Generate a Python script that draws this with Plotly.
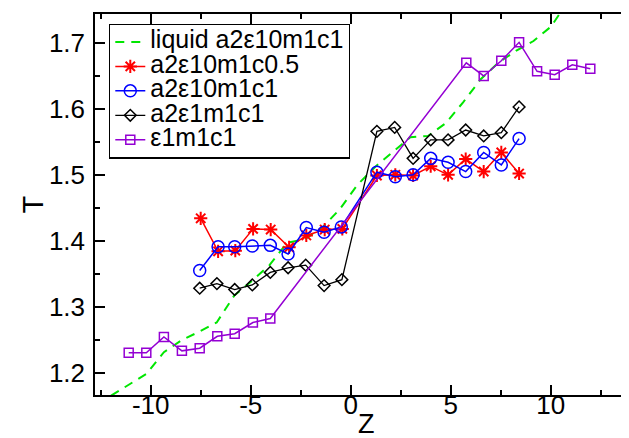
import plotly.graph_objects as go

# ---------------- data ----------------
liquid_z = [-11.98, -11.10, -10.22, -9.34, -8.46, -7.58, -6.70, -5.82, -4.94, -4.06,
            -3.18, -2.30, -1.42, -0.54, 0.34, 1.22, 2.10, 2.98, 3.86, 4.74,
            5.62, 6.50, 7.38, 8.26, 9.14, 10.02, 10.90]
liquid_T = [1.165, 1.182, 1.198, 1.231, 1.249, 1.262, 1.276, 1.317, 1.339, 1.363,
            1.397, 1.402, 1.420, 1.448, 1.485, 1.512, 1.535, 1.557, 1.559, 1.578,
            1.610, 1.645, 1.670, 1.688, 1.703, 1.725, 1.765]

red_z = [-7.50, -6.63, -5.77, -4.88, -4.00, -3.08, -2.22, -1.30, -0.42,
         1.31, 2.23, 3.12, 4.00, 4.87, 5.75, 6.65, 7.53, 8.42]
red_T = [1.434, 1.384, 1.385, 1.418, 1.417, 1.390, 1.408, 1.417, 1.418,
         1.499, 1.500, 1.499, 1.513, 1.500, 1.524, 1.505, 1.534, 1.502]

blue_z = [-7.55, -6.63, -5.80, -4.92, -4.02, -3.13, -2.22, -1.33, -0.47,
          1.31, 2.23, 3.12, 4.00, 4.87, 5.75, 6.65, 7.53, 8.42]
blue_T = [1.355, 1.391, 1.391, 1.392, 1.393, 1.380, 1.420, 1.413, 1.421,
          1.504, 1.497, 1.500, 1.525, 1.519, 1.505, 1.534, 1.515, 1.555]

black_z = [-7.55, -6.69, -5.80, -4.92, -4.02, -3.13, -2.25, -1.33, -0.44,
           1.31, 2.20, 3.12, 4.00, 4.87, 5.75, 6.65, 7.53, 8.42]
black_T = [1.328, 1.335, 1.326, 1.333, 1.352, 1.359, 1.363, 1.332, 1.341,
           1.566, 1.572, 1.525, 1.553, 1.553, 1.568, 1.559, 1.564, 1.603]

purple_z = [-11.10, -10.22, -9.34, -8.44, -7.55, -6.67, -5.80, -4.89, -4.02,
            5.78, 6.65, 7.53, 8.42, 9.32, 10.20, 11.08, 11.98]
purple_T = [1.230, 1.230, 1.254, 1.233, 1.237, 1.255, 1.259, 1.276, 1.282,
            1.670, 1.650, 1.673, 1.701, 1.657, 1.652, 1.667, 1.661]

names = ["liquid a2ε10m1c1", "a2ε10m1c0.5", "a2ε10m1c1", "a2ε1m1c1", "ε1m1c1"]

x_tick_vals = [-10, -5, 0, 5, 10]
x_tick_text = ["-10", "-5", "0", "5", "10"]
y_tick_vals = [1.2, 1.3, 1.4, 1.5, 1.6, 1.7]
y_tick_text = ["1.2", "1.3", "1.4", "1.5", "1.6", "1.7"]

x_title = "Z"
y_title = "T"

x_range = [-12.785, 14.315]
y_range = [1.166, 1.744]

FONT = "Liberation Sans, Arial, Helvetica, sans-serif"


def lab(s):
    return "<span style='font-size:25px'>" + s + "</span>"


fig = go.Figure()

fig.add_trace(go.Scatter(
    x=liquid_z, y=liquid_T, mode="lines", name=lab(names[0]),
    line=dict(color="#00e600", width=2, dash="9px,7px")))

fig.add_trace(go.Scatter(
    x=red_z, y=red_T, mode="lines+markers", name=lab(names[1]),
    line=dict(color="#ff0000", width=1.5),
    marker=dict(symbol="asterisk-open", size=11, color="#ff0000",
                line=dict(color="#ff0000", width=2))))

fig.add_trace(go.Scatter(
    x=blue_z, y=blue_T, mode="lines+markers", name=lab(names[2]),
    line=dict(color="#0000ff", width=1.5),
    marker=dict(symbol="circle-open", size=12, color="#0000ff",
                line=dict(color="#0000ff", width=1.5))))

fig.add_trace(go.Scatter(
    x=black_z, y=black_T, mode="lines+markers", name=lab(names[3]),
    line=dict(color="#000000", width=1.3),
    marker=dict(symbol="diamond-open", size=9, color="#000000",
                line=dict(color="#000000", width=1.5))))

fig.add_trace(go.Scatter(
    x=purple_z, y=purple_T, mode="lines+markers", name=lab(names[4]),
    line=dict(color="#9400d3", width=1.5),
    marker=dict(symbol="square-open", size=9, color="#9400d3",
                line=dict(color="#9400d3", width=1.5))))

fig.update_xaxes(
    range=x_range, tickmode="array", tickvals=x_tick_vals, ticktext=x_tick_text,
    showgrid=False, zeroline=False, showline=True, linecolor="black",
    linewidth=1.5, mirror="ticks", ticks="inside", ticklen=10, tickwidth=1.5,
    tickcolor="black", tickfont=dict(size=26, family=FONT, color="black"),
    ticklabelstandoff=-14,
    minor=dict(dtick=2.5, tick0=0, ticks="inside", ticklen=5, tickwidth=1.5,
               tickcolor="black"),
    automargin=False)

fig.update_yaxes(
    range=y_range, tickmode="array", tickvals=y_tick_vals, ticktext=y_tick_text,
    showgrid=False, zeroline=False, showline=True, linecolor="black",
    linewidth=1.5, mirror="ticks", ticks="inside", ticklen=10, tickwidth=1.5,
    tickcolor="black", tickfont=dict(size=26, family=FONT, color="black"),
    ticklabelstandoff=3,
    minor=dict(dtick=0.05, tick0=1.2, ticks="inside", ticklen=5, tickwidth=1.5,
               tickcolor="black"),
    automargin=False)

fig.add_annotation(
    text=x_title, xref="paper", yref="paper", x=0.5, y=-0.122,
    xanchor="center", yanchor="bottom", showarrow=False,
    font=dict(size=27, family=FONT, color="black"))

fig.add_annotation(
    text=y_title, xref="paper", yref="paper", x=-0.1144, y=0.5,
    xanchor="center", yanchor="middle", showarrow=False, textangle=-90,
    font=dict(size=29, family=FONT, color="black"))

fig.update_layout(
    width=629, height=438,
    margin=dict(l=87, r=0, t=6, b=51),
    plot_bgcolor="white", paper_bgcolor="white",
    font=dict(family=FONT, color="black"),
    showlegend=True,
    legend=dict(
        x=0.026, y=0.975, xanchor="left", yanchor="top",
        bgcolor="white", bordercolor="black", borderwidth=1.2,
        font=dict(size=16.5, family=FONT, color="black"),
        itemwidth=30, tracegroupgap=0,
    ),
)

fig.write_html("out.html")
